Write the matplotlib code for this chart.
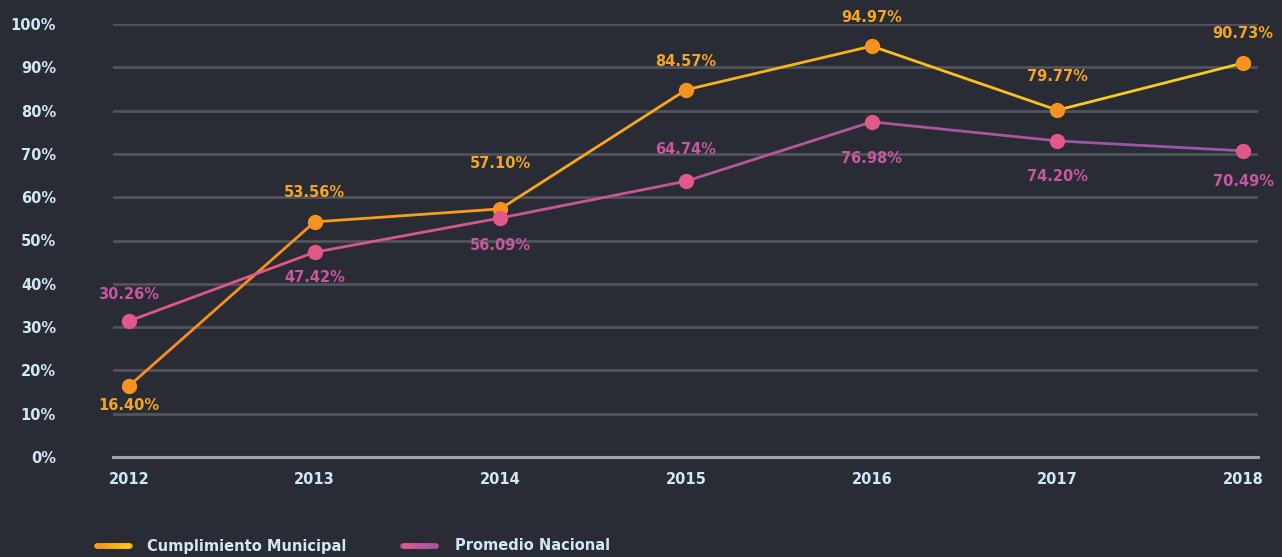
import matplotlib
matplotlib.use("Agg")
import matplotlib.pyplot as plt
from matplotlib.collections import LineCollection
from matplotlib.colors import LinearSegmentedColormap
import numpy as np

years = [2012, 2013, 2014, 2015, 2016, 2017, 2018]
municipal = [16.4, 54.3, 57.3, 84.8, 94.9, 80.1, 91.0]
municipal_labels = ["16.40%", "53.56%", "57.10%", "84.57%", "94.97%", "79.77%", "90.73%"]
nacional = [31.4, 47.3, 55.2, 63.7, 77.4, 73.0, 70.7]
nacional_labels = ["30.26%", "47.42%", "56.09%", "64.74%", "76.98%", "74.20%", "70.49%"]
yticks = [0, 10, 20, 30, 40, 50, 60, 70, 80, 90, 100]
series_names = ["Cumplimiento Municipal", "Promedio Nacional"]

BG = "#292c34"
TXT = "#d0e8f6"
FONT = "DejaVu Sans"

fig = plt.figure(figsize=(12.82, 5.57), dpi=100, facecolor=BG)
ax = fig.add_axes([113/1282, 1-457/557, (1258-113)/1282, (457-24)/557])
ax.set_facecolor(BG)

ax.set_xlim(years[0] - 0.086, years[-1] + 0.08)
ax.set_ylim(0, 100)

for t in yticks:
    if t == 0:
        ax.axhline(t, color="#9ea3aa", lw=2.2, zorder=1, clip_on=False)
    else:
        ax.axhline(t, color="#51545c", lw=2.0, zorder=1)

for s in ax.spines.values():
    s.set_visible(False)

ax.set_yticks(yticks)
ax.set_yticklabels([f"{t}%" for t in yticks])
ax.set_xticks(years)
ax.set_xticklabels([str(y) for y in years])
ax.tick_params(length=0, colors=TXT, labelsize=10.5)
ax.tick_params(axis="y", pad=41)
ax.tick_params(axis="x", pad=11)
for lab in ax.get_yticklabels():
    lab.set_horizontalalignment("right")
    lab.set_fontweight("bold")
    lab.set_fontfamily(FONT)
for lab in ax.get_xticklabels():
    lab.set_fontweight("bold")
    lab.set_fontfamily(FONT)

cmap_o = LinearSegmentedColormap.from_list("o", ["#f7901e", "#fbcb1b"])
cmap_p = LinearSegmentedColormap.from_list("p", ["#e2578a", "#9c55a6"])

def grad_line(xs, ys, cmap, marker_color):
    pts = np.column_stack([xs, ys])
    segs = [pts[i:i+2] for i in range(len(pts)-1)]
    cols = [cmap(i/(len(segs)-1)) for i in range(len(segs))]
    lc = LineCollection(segs, colors=cols, linewidths=2.0, zorder=3, capstyle="round")
    ax.add_collection(lc)
    ax.plot(xs, ys, "o", color=marker_color, ms=10, zorder=4, clip_on=False)

grad_line(years, municipal, cmap_o, "#f7921f")
grad_line(years, nacional, cmap_p, "#e3588a")

muni_off = [-20, 29, 45, 28, 29, 34, 29]
nac_off = [27, -25, -28, 32, -37, -36, -31]

for x, y, lab, off in zip(years, municipal, municipal_labels, muni_off):
    ax.annotate(lab, (x, y), xytext=(0, off), textcoords="offset pixels",
                ha="center", va="center", color="#f6a522", fontsize=10.5,
                fontweight="bold", family=FONT, zorder=5)
for x, y, lab, off in zip(years, nacional, nacional_labels, nac_off):
    ax.annotate(lab, (x, y), xytext=(0, off), textcoords="offset pixels",
                ha="center", va="center", color="#c956a0", fontsize=10.5,
                fontweight="bold", family=FONT, zorder=5)

# legend
ly = 1 - 546/557
for (x0, x1, tx), cm, name in zip([(97, 130, 147), (403, 436, 455)], [cmap_o, cmap_p], series_names):
    n = 24
    xs = np.linspace(x0, x1, n) / 1282
    # base with rounded ends
    fig.add_artist(plt.Line2D([xs[0], xs[-1]], [ly, ly], transform=fig.transFigure,
                              color=cm(0.5), lw=4, solid_capstyle="round"))
    segs = [[(xs[i], ly), (xs[i+1], ly)] for i in range(n-1)]
    lc = LineCollection(segs, colors=[cm(i/(n-2)) for i in range(n-1)], linewidths=4,
                        transform=fig.transFigure, capstyle="butt")
    fig.add_artist(lc)
    fig.text(tx/1282, ly, name, color=TXT, fontsize=10.5, fontweight="bold",
             family=FONT, va="center", ha="left")

fig.savefig("out.png", dpi=100, facecolor=BG)
